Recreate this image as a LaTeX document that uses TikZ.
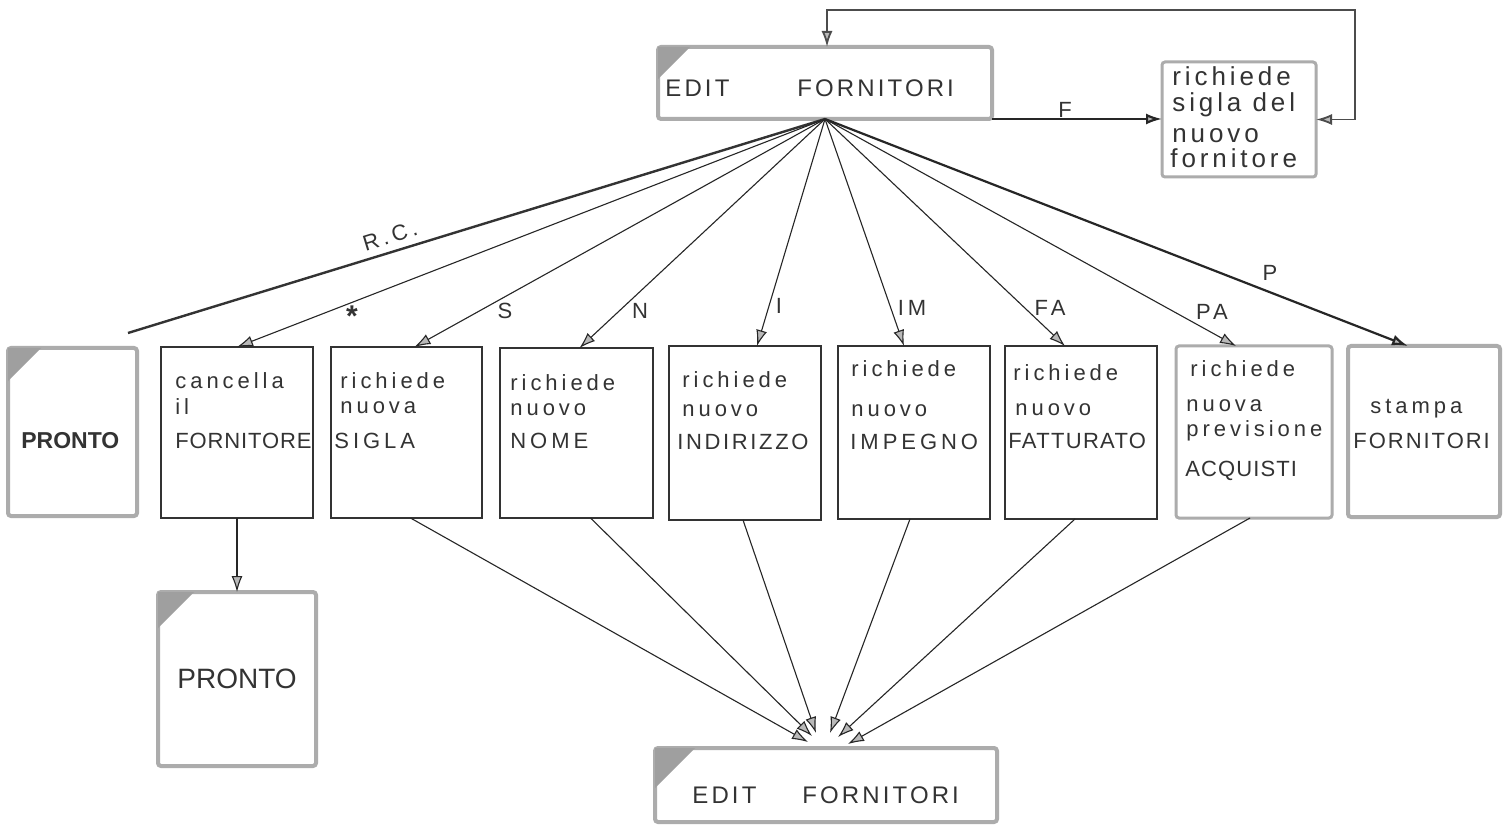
\documentclass[tikz,border=0pt]{standalone}
\usepackage{fontspec}
\usetikzlibrary{arrows.meta,calc}
\newfontfamily\lett[LetterSpace=18]{Liberation Sans}
\newfontfamily\plainlett{Liberation Sans}
\newfontfamily\handlett[LetterSpace=15]{Liberation Sans}

% box from corner (x1,y1) to (x2,y2), in pixel units
\newcommand\mkbox[6]{\node[#2,minimum width={(#5-#3)*0.5pt},minimum height={(#6-#4)*0.5pt}] (#1) at (#3,#4) {};}
% shaded corner in the top left of a box
\newcommand\darkcorner[2]{\fill[gray!75] (#1.north west) -- ++(#2,0) -- ++(-#2,#2) -- cycle;}

\begin{document}
\begin{tikzpicture}[x=0.5pt,y=-0.5pt,
  thinbox/.style={draw=black!80,line width=0.6pt,anchor=north west,inner sep=0pt,outer sep=0pt},
  heavybox/.style={draw=gray!65,line width=2pt,rounded corners=1.5pt,anchor=north west,inner sep=0pt,outer sep=0pt},
  midbox/.style={heavybox,line width=1.5pt},
  txt/.style={font=\lett\fontsize{11}{13}\selectfont,text=black!80,anchor=base west,inner sep=0pt},
  hand/.style={font=\handlett\fontsize{13}{13}\selectfont,text=black!80,anchor=base west,inner sep=0pt},
  lbl/.style={font=\lett\fontsize{11}{13}\selectfont,text=black!80,inner sep=0pt},
  tip/.style={-{Latex[length=8pt,width=5.5pt,fill=gray!55]}},
  arr/.style={draw=black!85,line width=0.55pt,tip},
  heavyarr/.style={draw=black!85,line width=1.1pt,tip},
  heavyln/.style={draw=black!80,line width=1.2pt},
  loopln/.style={draw=black!70,line width=0.9pt,{Latex[length=8pt,width=5.5pt,fill=gray!55]}-{Latex[length=8pt,width=5.5pt,fill=gray!55]}}
]
\useasboundingbox[fill=white] (0,0) rectangle (1508,828);

% ---- boxes
\mkbox{etop}{heavybox}{658}{47}{992}{119}
\mkbox{rbox}{midbox}{1162}{62}{1316}{177}
\mkbox{prA}{heavybox}{8}{348}{137}{516}
\mkbox{canc}{thinbox}{161}{347}{313}{518}
\mkbox{sig}{thinbox}{331}{347}{482}{518}
\mkbox{nom}{thinbox}{500}{348}{653}{518}
\mkbox{ind}{thinbox}{669}{346}{821}{520}
\mkbox{imp}{thinbox}{838}{346}{990}{519}
\mkbox{fat}{thinbox}{1005}{346}{1157}{519}
\mkbox{acq}{midbox}{1176}{346}{1332}{518}
\mkbox{stp}{heavybox}{1348}{346}{1500}{517}
\mkbox{prB}{heavybox}{158}{592}{316}{766}
\mkbox{ebot}{heavybox}{655}{748}{997}{822}

\darkcorner{etop}{32}
\darkcorner{prA}{33}
\darkcorner{prB}{36}
\darkcorner{ebot}{40}

% ---- texts
\node[txt,font=\lett\addfontfeature{LetterSpace=13}\fontsize{12}{14}\selectfont] (t01) at (665,97) {EDIT};
\node[txt,font=\lett\addfontfeature{LetterSpace=13}\fontsize{12}{14}\selectfont] (t02) at (797,97) {FORNITORI};
\node[hand] (t03) at (1172,86) {richiede};
\node[hand] (t04) at (1172,112) {sigla del};
\node[hand] (t05) at (1172,143) {nuovo};
\node[hand] (t06) at (1170,168) {fornitore};

\node[txt,font=\plainlett\bfseries\fontsize{11.5}{13}\selectfont] (t10) at (21,448) {PRONTO};

\node[txt] (t11) at (175,388) {cancella};
\node[txt] (t12) at (175,414) {il};
\node[txt,font=\lett\addfontfeature{LetterSpace=4}\fontsize{11}{13}\selectfont] (t13) at (175,448) {FORNITORE};

\node[txt] (t21) at (340,388) {richiede};
\node[txt] (t22) at (340,413) {nuova};
\node[txt] (t23) at (334,448) {SIGLA};

\node[txt] (t31) at (510,390) {richiede};
\node[txt] (t32) at (510,415) {nuovo};
\node[txt] (t33) at (510,448) {NOME};

\node[txt] (t41) at (682,387) {richiede};
\node[txt] (t42) at (682,416) {nuovo};
\node[txt,font=\lett\addfontfeature{LetterSpace=12}\fontsize{11}{13}\selectfont] (t43) at (677,449) {INDIRIZZO};

\node[txt] (t51) at (851,377) {richiede};
\node[txt] (t52) at (851,416) {nuovo};
\node[txt] (t53) at (850,449) {IMPEGNO};

\node[txt] (t61) at (1013,380) {richiede};
\node[txt] (t62) at (1015,415) {nuovo};
\node[txt,font=\lett\addfontfeature{LetterSpace=6}\fontsize{11}{13}\selectfont] (t63) at (1008,448) {FATTURATO};

\node[txt] (t71) at (1190,377) {richiede};
\node[txt] (t72) at (1186,411) {nuova};
\node[txt] (t73) at (1186,436) {previsione};
\node[txt,font=\lett\addfontfeature{LetterSpace=5}\fontsize{11}{13}\selectfont] (t74) at (1185,476) {ACQUISTI};

\node[txt] (t81) at (1370,413) {stampa};
\node[txt,font=\lett\addfontfeature{LetterSpace=9}\fontsize{11}{13}\selectfont] (t82) at (1353,448) {FORNITORI};

\node[txt,font=\plainlett\fontsize{14}{16}\selectfont] (t90) at (177,688) {PRONTO};

\node[txt,font=\lett\addfontfeature{LetterSpace=13}\fontsize{12}{14}\selectfont] (t91) at (692,803) {EDIT};
\node[txt,font=\lett\addfontfeature{LetterSpace=13}\fontsize{12}{14}\selectfont] (t92) at (802,803) {FORNITORI};

% ---- connectors from the top EDIT box
\coordinate (rcend) at (128,333);
\draw[heavyln] (etop.south) -- (rcend);
\draw[arr] (etop.south) -- (canc.north);
\draw[arr] (etop.south) -- ([xshift=4pt]sig.north);
\draw[arr] (etop.south) -- ([xshift=1.5pt]nom.north);
\draw[arr] (etop.south) -- ([xshift=6pt]ind.north);
\draw[arr] (etop.south) -- ([xshift=-5pt]imp.north);
\draw[arr] (etop.south) -- ([xshift=-8pt]fat.north);
\draw[arr] (etop.south) -- ([xshift=-9pt]acq.north);
\draw[heavyarr] (etop.south) -- ([xshift=-8pt]stp.north);
\draw[heavyarr] (etop.south east) -- (etop.south east -| rbox.west);

% feedback loop
\coordinate (lc) at (1355,10);
\draw[loopln] (rbox.east) -| (lc) -| ([xshift=1pt]etop.north);

% labels
\node[lbl,rotate=17] (l1) at (390,236) {R.C.};
\node[lbl,font=\plainlett\bfseries\fontsize{15}{16}\selectfont] (l2) at (352,316) {*};
\node[lbl] (l3) at (505,311) {S};
\node[lbl] (l4) at (640,311) {N};
\node[lbl] (l5) at (779,306) {I};
\node[lbl] (l6) at (912,308) {IM};
\node[lbl] (l7) at (1050,308) {FA};
\node[lbl] (l8) at (1212,312) {PA};
\node[lbl] (l9) at (1270,273) {P};
\node[lbl] (l10) at (1065,110) {F};

% ---- cancella -> PRONTO
\draw[arr] (canc.south) -- (prB.north);

% ---- converging into the bottom EDIT box
\draw[arr] ([xshift=2pt]sig.south) -- ($(ebot.north)+(-18,-6)$);
\draw[arr] ([xshift=7pt]nom.south) -- ($(ebot.north)+(-14,-12)$);
\draw[arr] ([xshift=-1pt]ind.south) -- ($(ebot.north)+(-10,-15)$);
\draw[arr] ([xshift=-2pt]imp.south) -- ($(ebot.north)+(4,-15)$);
\draw[arr] ([xshift=-3pt]fat.south) -- ($(ebot.north)+(12,-11)$);
\draw[arr] ([xshift=-2pt]acq.south) -- ($(ebot.north)+(22,-4)$);
\end{tikzpicture}
\end{document}
